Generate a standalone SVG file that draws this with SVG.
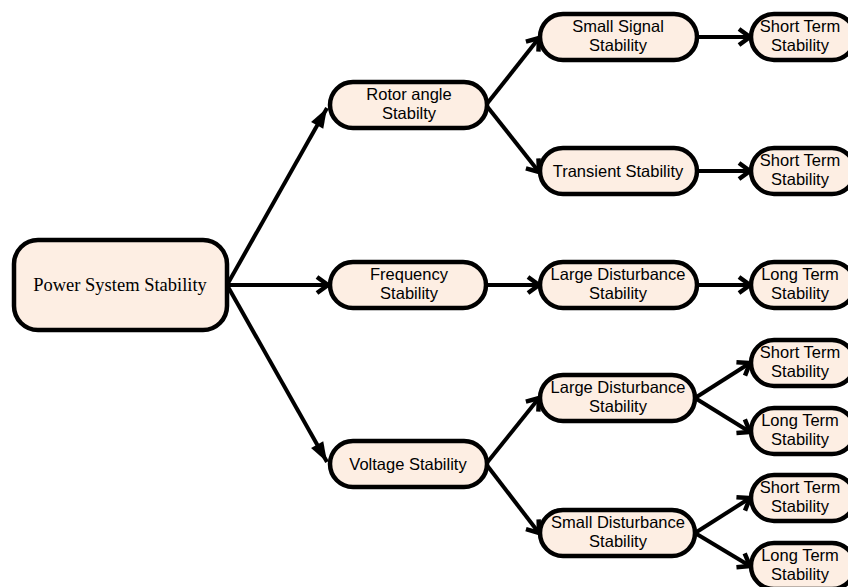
<svg xmlns="http://www.w3.org/2000/svg" width="848" height="587" viewBox="0 0 848 587">
<defs>
<marker id="open" markerUnits="userSpaceOnUse" markerWidth="22" markerHeight="22" viewBox="0 0 22 22" refX="16" refY="11" orient="auto">
<path d="M5,3 L16,11 L5,19" fill="none" stroke="#000" stroke-width="4.5" stroke-linejoin="miter"/>
</marker>
<marker id="solid" markerUnits="userSpaceOnUse" markerWidth="24" markerHeight="20" viewBox="0 0 24 20" refX="22" refY="10" orient="auto">
<path d="M2,3 L22,10 L2,17 Z" fill="#000"/>
</marker>
</defs>
<style>
.n{fill:#FDEEE3;stroke:#000;stroke-width:4.5}
.t{font-family:"Liberation Sans",Arial,sans-serif;font-size:16.5px;fill:#000;text-anchor:middle}
.r{font-family:"Liberation Serif","DejaVu Serif",serif;font-size:18.5px;fill:#000;text-anchor:middle}
.e{stroke:#000;stroke-width:4;fill:none}
</style>
<rect width="848" height="587" fill="#fff"/>
<g id="connectors">
<line class="e" x1="227" y1="285" x2="327" y2="108" marker-end="url(#solid)"/>
<line class="e" x1="227" y1="285" x2="328" y2="285" marker-end="url(#open)"/>
<line class="e" x1="227" y1="285" x2="327" y2="462" marker-end="url(#solid)"/>
<line class="e" x1="486" y1="105" x2="539" y2="38" marker-end="url(#open)"/>
<line class="e" x1="486" y1="105" x2="539" y2="172" marker-end="url(#open)"/>
<line class="e" x1="697" y1="37" x2="750" y2="37" marker-end="url(#open)"/>
<line class="e" x1="697" y1="171" x2="750" y2="171" marker-end="url(#open)"/>
<line class="e" x1="486" y1="285" x2="539" y2="285" marker-end="url(#open)"/>
<line class="e" x1="697" y1="285" x2="750" y2="285" marker-end="url(#open)"/>
<line class="e" x1="486" y1="464" x2="539" y2="398" marker-end="url(#open)"/>
<line class="e" x1="486" y1="464" x2="539" y2="533" marker-end="url(#open)"/>
<line class="e" x1="695" y1="398" x2="750" y2="363" marker-end="url(#open)"/>
<line class="e" x1="695" y1="398" x2="750" y2="432" marker-end="url(#open)"/>
<line class="e" x1="695" y1="533" x2="750" y2="498" marker-end="url(#open)"/>
<line class="e" x1="695" y1="533" x2="750" y2="566" marker-end="url(#open)"/>
</g>
<g id="root"><rect class="n" x="14" y="240" width="213" height="90" rx="24"/><text class="r" x="120" y="291">Power System Stability</text></g>
<g id="rotor"><rect class="n" x="330" y="82" width="157" height="46" rx="23"/><text class="t" x="409" y="100">Rotor angle</text><text class="t" x="409" y="119">Stabilty</text></g>
<g id="frequency"><rect class="n" x="330" y="262" width="156" height="46" rx="23"/><text class="t" x="409" y="280">Frequency</text><text class="t" x="409" y="299">Stability</text></g>
<g id="voltage"><rect class="n" x="330" y="441" width="157" height="46" rx="23"/><text class="t" x="408" y="470">Voltage Stability</text></g>
<g id="smallsignal"><rect class="n" x="540" y="14" width="157" height="46" rx="23"/><text class="t" x="618" y="32">Small Signal</text><text class="t" x="618" y="51">Stability</text></g>
<g id="transient"><rect class="n" x="540" y="148" width="157" height="46" rx="23"/><text class="t" x="618" y="177">Transient Stability</text></g>
<g id="largedist1"><rect class="n" x="540" y="262" width="157" height="46" rx="23"/><text class="t" x="618" y="280">Large Disturbance</text><text class="t" x="618" y="299">Stability</text></g>
<g id="largedist2"><rect class="n" x="540" y="375" width="155" height="46" rx="23"/><text class="t" x="618" y="393">Large Disturbance</text><text class="t" x="618" y="412">Stability</text></g>
<g id="smalldist"><rect class="n" x="540" y="510" width="155" height="46" rx="23"/><text class="t" x="618" y="528">Small Disturbance</text><text class="t" x="618" y="547">Stability</text></g>
<g id="leaf1"><rect class="n" x="751" y="14" width="104" height="46" rx="23"/><text class="t" x="800" y="32">Short Term</text><text class="t" x="800" y="51">Stability</text></g>
<g id="leaf2"><rect class="n" x="751" y="148" width="104" height="46" rx="23"/><text class="t" x="800" y="166">Short Term</text><text class="t" x="800" y="185">Stability</text></g>
<g id="leaf3"><rect class="n" x="751" y="262" width="104" height="46" rx="23"/><text class="t" x="800" y="280">Long Term</text><text class="t" x="800" y="299">Stability</text></g>
<g id="leaf4"><rect class="n" x="751" y="340" width="104" height="46" rx="23"/><text class="t" x="800" y="358">Short Term</text><text class="t" x="800" y="377">Stability</text></g>
<g id="leaf5"><rect class="n" x="751" y="408" width="104" height="46" rx="23"/><text class="t" x="800" y="426">Long Term</text><text class="t" x="800" y="445">Stability</text></g>
<g id="leaf6"><rect class="n" x="751" y="475" width="104" height="46" rx="23"/><text class="t" x="800" y="493">Short Term</text><text class="t" x="800" y="512">Stability</text></g>
<g id="leaf7"><rect class="n" x="751" y="543" width="104" height="46" rx="23"/><text class="t" x="800" y="561">Long Term</text><text class="t" x="800" y="580">Stability</text></g>
</svg>
